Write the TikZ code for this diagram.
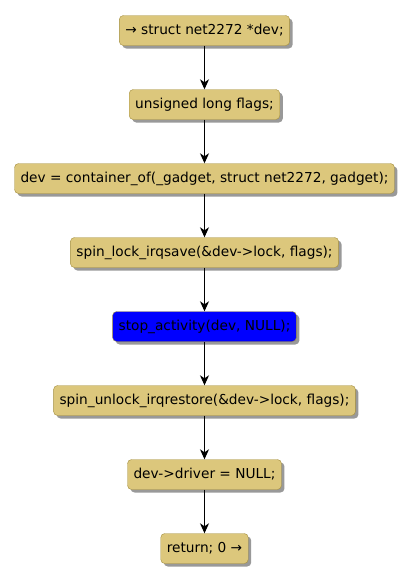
\documentclass[tikz,border=0pt]{standalone}
\usepackage{fontspec}
\setmainfont{DejaVu Sans}
\usetikzlibrary{shadows,arrows.meta}
\definecolor{actfill}{HTML}{DCC77C}
\definecolor{actline}{HTML}{A38D3C}
\begin{document}
\begin{tikzpicture}[
    x=1pt, y=-1pt,
    stmt/.style={rectangle, draw=actline, fill=actfill, rounded corners=4pt, minimum height=30pt, inner xsep=6pt, font=\fontsize{13.7}{16}\selectfont, drop shadow={shadow xshift=3pt, shadow yshift=-3pt, fill=black!40, opacity=1}},
    arrow/.style={-{Stealth[length=10pt, width=9pt, inset=3pt]}, line width=1pt}
]
    \useasboundingbox (0,0) rectangle (411,581);
    \node[stmt] (s1) at (204.5,30.5) {→ struct net2272 *dev;};
    \node[stmt] (s2) at (204.5,104.5) {unsigned long flags;};
    \node[stmt] (s3) at (204.5,178.5) {dev = container\_of(\_gadget, struct net2272, gadget);};
    \node[stmt] (s4) at (204.5,252.5) {spin\_lock\_irqsave(\&dev->lock, flags);};
    \node[stmt, fill=blue] (s5) at (204.5,326.5) {stop\_activity(dev, NULL);};
    \node[stmt] (s6) at (204.5,400.5) {spin\_unlock\_irqrestore(\&dev->lock, flags);};
    \node[stmt] (s7) at (204.5,474.5) {dev->driver = NULL;};
    \node[stmt] (s8) at (204.5,548.5) {return; 0 →};

    \draw[arrow] (s1) -- (s2);
    \draw[arrow] (s2) -- (s3);
    \draw[arrow] (s3) -- (s4);
    \draw[arrow] (s4) -- (s5);
    \draw[arrow] (s5) -- (s6);
    \draw[arrow] (s6) -- (s7);
    \draw[arrow] (s7) -- (s8);
\end{tikzpicture}
\end{document}
